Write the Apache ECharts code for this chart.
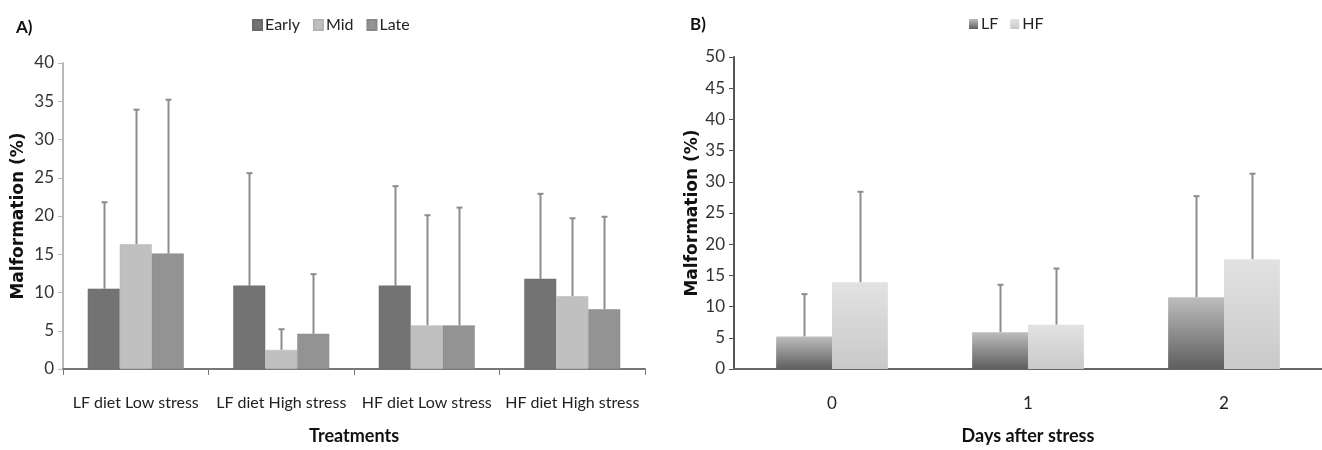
<!DOCTYPE html>
<html lang="en">
<head>
    <meta charset="UTF-8">
    <script src="https://cdn.jsdelivr.net/npm/echarts@6.0.0/dist/echarts.min.js"></script>
    <title>Malformation</title>
    <style>
        *{
            margin: 0;
            padding: 0;
        }
        #chart{
            width: 1322px;
            height: 450px;
            background: #fff;
        }
    </style>
</head>
<body>
    <div id="chart"></div>
<script>
    // A) treatments
    var treatments = ['LF diet Low stress', 'LF diet High stress', 'HF diet Low stress', 'HF diet High stress'];
    var earlyVals = [10.5, 10.9, 10.9, 11.8];
    var earlyErr  = [21.8, 25.6, 23.9, 22.9];
    var midVals   = [16.3, 2.5, 5.7, 9.5];
    var midErr    = [33.9, 5.2, 20.1, 19.7];
    var lateVals  = [15.1, 4.6, 5.7, 7.8];
    var lateErr   = [35.2, 12.4, 21.1, 19.9];

    // B) days after stress
    var days = ['0', '1', '2'];
    var lfVals = [5.2, 5.9, 11.5];
    var lfErr  = [12.0, 13.5, 27.7];
    var hfVals = [13.9, 7.1, 17.6];
    var hfErr  = [28.4, 16.1, 31.3];

    var narrow = "Lato, 'Open Sans', sans-serif";
    var boldFont = "'DejaVu Sans', sans-serif";

    // error bar drawn above the bar: vertical line + small cap
    function errSeries(name, vals, errs, idx, n, gap, xi, yi) {
        var data = vals.map(function (v, i) { return [i, v, errs[i]]; });
        return {
            type: 'custom',
            name: name + ' err',
            xAxisIndex: xi,
            yAxisIndex: yi,
            z: 1,
            silent: true,
            data: data,
            renderItem: function (params, api) {
                var base = api.coord([api.value(0), api.value(1)]);
                var top = api.coord([api.value(0), api.value(2)]);
                var band = api.size([1, 0])[0];
                var groupW = band * (1 - gap);
                var bw = groupW / n;
                var cx = Math.round(base[0] - groupW / 2 + bw * (idx + 0.5)) + 0.5;
                var st = { stroke: '#8c8c8c', lineWidth: 2 };
                return {
                    type: 'group',
                    children: [
                        { type: 'line', shape: { x1: cx, y1: base[1], x2: cx, y2: top[1] }, style: st },
                        { type: 'line', shape: { x1: cx - 3, y1: top[1], x2: cx + 3, y2: top[1] }, style: st }
                    ]
                };
            }
        };
    }

    function grad(top, bottom) {
        return new echarts.graphic.LinearGradient(0, 0, 0, 1, [
            { offset: 0, color: top },
            { offset: 1, color: bottom }
        ]);
    }

    var gapA = 0.34, gapB = 0.43;

    var yAxisCommon = {
        type: 'value',
        splitLine: { show: false },
        axisTick: { show: true, inside: false, length: 5, lineStyle: { color: '#b8b8b8' } },
        axisLabel: { fontFamily: narrow, fontSize: 17, color: '#333', margin: 9 },
        nameLocation: 'middle',
        nameRotate: 90,
        nameTextStyle: { fontFamily: boldFont, fontWeight: 'bold', fontSize: 17, color: '#111' }
    };

    var chart = echarts.init(document.getElementById('chart'));
    var option = {
        animation: false,
        backgroundColor: '#fff',
        title: [
            { text: 'A)', left: 11, top: 14, textStyle: { fontFamily: narrow, fontWeight: 'bold', fontSize: 17, color: '#111' } },
            { text: 'B)', left: 685, top: 11, textStyle: { fontFamily: narrow, fontWeight: 'bold', fontSize: 17, color: '#111' } }
        ],
        legend: [
            {
                data: ['Early', 'Mid', 'Late'],
                left: 247, top: 12,
                itemWidth: 9, itemHeight: 10, itemGap: 13,
                icon: 'rect',
                textStyle: { fontFamily: narrow, fontSize: 16, color: '#222', padding: [0, 0, 0, -2] }
            },
            {
                data: ['LF', 'HF'],
                left: 964, top: 11,
                itemWidth: 9, itemHeight: 10, itemGap: 12,
                icon: 'rect',
                textStyle: { fontFamily: narrow, fontSize: 16, color: '#222', padding: [0, 0, 0, -2] }
            }
        ],
        grid: [
            { left: 63, right: 677, top: 63, bottom: 78 },
            { left: 734, right: 0, top: 57, bottom: 78 }
        ],
        xAxis: [
            {
                type: 'category', gridIndex: 0, data: treatments,
                axisLine: { lineStyle: { color: '#777', width: 2 } },
                axisTick: { show: true, length: 6, lineStyle: { color: '#777' } },
                axisLabel: { interval: 0, fontFamily: narrow, fontSize: 16, color: '#222', margin: 26 },
                name: 'Treatments', nameLocation: 'middle', nameGap: 58,
                nameTextStyle: { fontFamily: narrow, fontWeight: 'bold', fontSize: 18, color: '#111' }
            },
            {
                type: 'category', gridIndex: 1, data: days,
                axisLine: { lineStyle: { color: '#666', width: 2 } },
                axisTick: { show: false },
                axisLabel: { fontFamily: narrow, fontSize: 17, color: '#222', margin: 26 },
                name: 'Days after stress', nameLocation: 'middle', nameGap: 58,
                nameTextStyle: { fontFamily: narrow, fontWeight: 'bold', fontSize: 18, color: '#111' }
            }
        ],
        yAxis: [
            echarts.util.merge({
                gridIndex: 0, min: 0, max: 40, interval: 5,
                axisLine: { show: true, lineStyle: { color: '#b8b8b8', width: 2 } },
                name: 'Malformation (%)', nameGap: 36
            }, yAxisCommon),
            echarts.util.merge({
                gridIndex: 1, min: 0, max: 50, interval: 5,
                axisLine: { show: true, lineStyle: { color: '#555', width: 2 } },
                axisTick: { lineStyle: { color: '#555' } },
                name: 'Malformation (%)', nameGap: 32
            }, yAxisCommon)
        ],
        series: [
            { type: 'bar', name: 'Early', xAxisIndex: 0, yAxisIndex: 0, data: earlyVals, barGap: '0%', barCategoryGap: '34%', z: 2,
              itemStyle: { color: '#737373', borderColor: '#6a6a6a', borderWidth: 0.5 } },
            { type: 'bar', name: 'Mid', xAxisIndex: 0, yAxisIndex: 0, data: midVals, barGap: '0%', barCategoryGap: '34%', z: 2,
              itemStyle: { color: '#c0c0c0', borderColor: '#b4b4b4', borderWidth: 0.5 } },
            { type: 'bar', name: 'Late', xAxisIndex: 0, yAxisIndex: 0, data: lateVals, barGap: '0%', barCategoryGap: '34%', z: 2,
              itemStyle: { color: '#939393', borderColor: '#888', borderWidth: 0.5 } },
            errSeries('Early', earlyVals, earlyErr, 0, 3, gapA, 0, 0),
            errSeries('Mid', midVals, midErr, 1, 3, gapA, 0, 0),
            errSeries('Late', lateVals, lateErr, 2, 3, gapA, 0, 0),

            { type: 'bar', name: 'LF', xAxisIndex: 1, yAxisIndex: 1, data: lfVals, barGap: '0%', barCategoryGap: '43%', z: 2,
              itemStyle: { color: grad('#bdbdbd', '#5e5e5e') } },
            { type: 'bar', name: 'HF', xAxisIndex: 1, yAxisIndex: 1, data: hfVals, barGap: '0%', barCategoryGap: '43%', z: 2,
              itemStyle: { color: grad('#e2e2e2', '#c9c9c9') } },
            errSeries('LF', lfVals, lfErr, 0, 2, gapB, 1, 1),
            errSeries('HF', hfVals, hfErr, 1, 2, gapB, 1, 1)
        ]
    };
    chart.setOption(option);
</script>
</body>
</html>
